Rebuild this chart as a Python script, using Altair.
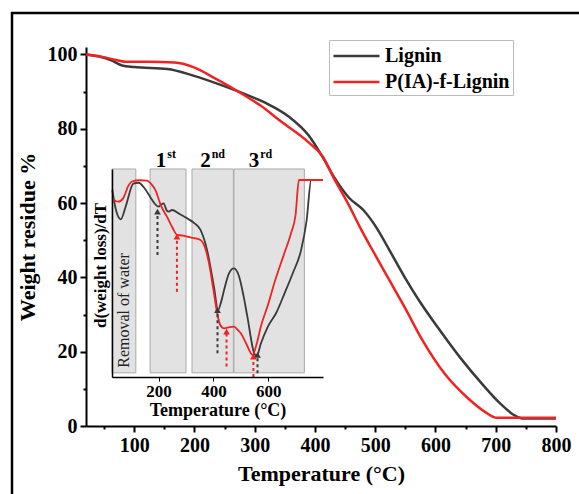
import altair as alt
import pandas as pd

FONT = "Liberation Serif"

# ---------------- data ----------------
series_names = ["Lignin", "P(IA)-f-Lignin"]
series_colors = ["#3a3a3a", "#f02222"]

# main TGA curves (temperature, weight residue %)
lig_T = [20, 40, 62, 80, 100, 155, 198, 247, 296, 321, 358, 389, 413, 432, 456, 481, 502, 524, 549, 573, 604, 641, 678, 709, 733, 746, 800]
lig_W = [100, 99.5, 98.4, 97.0, 96.6, 96.1, 94.3, 91.6, 88.5, 86.7, 83.1, 78.3, 72.3, 66.9, 61.5, 58.0, 53.4, 47.2, 40.0, 33.7, 26.5, 18.4, 11.2, 5.8, 2.7, 2.0, 2.0]
pia_T = [20, 40, 62, 88, 124, 167, 198, 235, 278, 309, 345, 389, 413, 432, 456, 475, 499, 524, 549, 579, 616, 653, 684, 702, 800]
pia_W = [100, 99.6, 98.8, 98.0, 98.0, 97.8, 96.6, 93.5, 89.5, 86.3, 81.8, 76.4, 72.5, 66.5, 59.5, 53.4, 46.3, 39.1, 31.9, 22.9, 13.9, 7.6, 3.6, 2.2, 2.2]

# inset DTG curves (temperature, relative derivative)
dtg_lig_T = [31, 45, 62, 80, 108, 127, 150, 169, 185, 200, 210, 218, 230, 237, 249, 275, 304, 330, 353, 377, 402, 417, 428, 439, 457, 475, 494, 510, 524, 549, 558, 573, 598, 630, 659, 690, 720, 740, 757, 800]
dtg_lig_v = [90, 80, 75.8, 82, 93, 93.4, 90.5, 86.7, 83.5, 81.9, 83, 83.5, 80, 79.5, 80.3, 78.5, 76.3, 74, 70.7, 61, 43.4, 32.2, 36, 41.8, 49.8, 52.2, 48.2, 39, 29, 11.4, 10, 16, 24, 31, 40, 50, 61, 75, 94.7, 94.7]
dtg_pia_T = [31, 45, 53, 71, 90, 103, 130, 157, 175, 188, 210, 231, 250, 268, 290, 304, 330, 353, 370, 384, 400, 414, 425, 439, 460, 475, 490, 500, 520, 543, 560, 573, 600, 622, 655, 683, 700, 712, 800]
dtg_pia_v = [86, 84.5, 84.3, 86, 92, 94, 94.6, 94.4, 92.5, 90, 82, 77, 72, 68.3, 68, 67.5, 66.8, 65.9, 62, 54.6, 42, 30.6, 25, 23.4, 24, 24.2, 22.5, 21, 16, 10.6, 17, 24.2, 35, 45, 58, 69, 78, 94.7, 94.7]

# shaded stages in the inset
region_start = [30, 169, 322, 475]
region_end = [117, 300, 473, 732]

# peak arrows in the inset
arrow_T = [196, 267, 415, 448, 561, 546]
arrow_tip = [79.5, 67.5, 32.2, 21.8, 10.6, 9.8]
arrow_tail = [58.7, 41.0, 11.4, 5.0, 1.8, 0.0]
arrow_series = ["Lignin", "P(IA)-f-Lignin", "Lignin", "P(IA)-f-Lignin", "Lignin", "P(IA)-f-Lignin"]

stage_T = [228, 390, 567]
stage_base = ["1", "2", "3"]
stage_sup = ["st", "nd", "rd"]

x_ticks_main = list(range(50, 801, 50))
y_ticks_main = list(range(0, 101, 10))
inset_ticks = [200, 400, 600]

# ---------------- tables ----------------
main_df = pd.concat([
    pd.DataFrame({"T": lig_T, "W": lig_W, "series": series_names[0]}),
    pd.DataFrame({"T": pia_T, "W": pia_W, "series": series_names[1]}),
])
dtg_df = pd.concat([
    pd.DataFrame({"T": dtg_lig_T, "v": dtg_lig_v, "series": series_names[0]}),
    pd.DataFrame({"T": dtg_pia_T, "v": dtg_pia_v, "series": series_names[1]}),
])
region_df = pd.DataFrame({"T": region_start, "T2": region_end, "v": [2] * 4, "v2": [100] * 4})
arrow_df = pd.DataFrame({"T": arrow_T, "tip": arrow_tip, "tail": arrow_tail, "series": arrow_series})
stage_df = pd.DataFrame({"T": stage_T, "base": stage_base, "sup": stage_sup,
                         "vb": [101] * 3, "vs": [105.5] * 3})
water_df = pd.DataFrame({"T": [72], "v": [32], "label": ["Removal of water"]})

# ---------------- shared guides ----------------
legend = alt.Legend(
    title=None, orient="none", legendX=243, legendY=-7,
    symbolType="M-1,0L3,0", symbolSize=529, symbolStrokeWidth=2.5,
    labelFont=FONT, labelFontSize=20, labelFontWeight="bold", labelColor="black",
    labelOffset=27, rowPadding=3, padding=3,
    strokeColor="#bbbbbb", fillColor="white")
color = alt.Color("series:N", scale=alt.Scale(domain=series_names, range=series_colors),
                  legend=legend, title=None)

inset_x_scale = alt.Scale(domain=[30, 800], range=[26, 237], nice=False, zero=False)
inset_y_scale = alt.Scale(domain=[0, 100], range=[330, 122], nice=False, zero=False)
inset_x_axis = alt.Axis(
    orient="bottom", offset=-49, values=inset_ticks, title="Temperature (°C)",
    labelFont=FONT, labelFontSize=17, labelFontWeight="bold", labelColor="black",
    titleFont=FONT, titleFontSize=18, titleFontWeight="bold", titleColor="black",
    titlePadding=2, labelPadding=2, tickSize=4, tickColor="black", domainColor="black",
    domainWidth=1.5, grid=False, zindex=1)
inset_y_axis = alt.Axis(
    orient="left", offset=-26, labels=False, ticks=False, title="d(weight loss)/dT",
    titleFont=FONT, titleFontSize=17, titleFontWeight="bold", titleColor="black",
    titlePadding=3, titleY=218, domainColor="black", domainWidth=1.5, grid=False, zindex=1)


def ix(field):
    return alt.X(field, scale=inset_x_scale, axis=inset_x_axis, title="Temperature (°C)")


def iy(field):
    return alt.Y(field, scale=inset_y_scale, axis=inset_y_axis, title="d(weight loss)/dT")


# ---------------- inset ----------------
rects = alt.Chart(region_df).mark_rect(fill="#e2e2e2", stroke="#a9a9a9", strokeWidth=1).encode(
    x=ix("T:Q"), x2="T2:Q", y=iy("v:Q"), y2="v2:Q",
)
inset_lines = alt.Chart(dtg_df).mark_line(strokeWidth=1.8, interpolate="monotone").encode(
    x=ix("T:Q"), y=iy("v:Q"), color=color,
)
arrows = alt.Chart(arrow_df).mark_rule(strokeWidth=2, strokeDash=[3, 3]).encode(
    x=ix("T:Q"), y=iy("tail:Q"), y2="tip:Q", color=color,
)
heads = alt.Chart(arrow_df).mark_point(shape="triangle-up", filled=True, size=45, opacity=1).encode(
    x=ix("T:Q"), y=iy("tip:Q"), color=color,
)
stage_main = alt.Chart(stage_df).mark_text(font=FONT, fontSize=21, fontWeight="bold", align="right",
                                             baseline="alphabetic", color="black").encode(
    x=ix("T:Q"), y=iy("vb:Q"), text="base:N",
)
stage_sup_txt = alt.Chart(stage_df).mark_text(font=FONT, fontSize=12, fontWeight="bold", align="left",
                                                baseline="alphabetic", color="black", dx=1).encode(
    x=ix("T:Q"), y=iy("vs:Q"), text="sup:N",
)
water_txt = alt.Chart(water_df).mark_text(font=FONT, fontSize=16, angle=270, color="#222222").encode(
    x=ix("T:Q"), y=iy("v:Q"), text="label:N",
)

inset = alt.layer(rects, inset_lines, arrows, heads, stage_main, stage_sup_txt, water_txt)

# ---------------- main ----------------
main_lines = alt.Chart(main_df).mark_line(strokeWidth=2.5, interpolate="monotone").encode(
    x=alt.X("T:Q", scale=alt.Scale(domain=[20, 800], nice=False, zero=False), axis=alt.Axis(
        orient="bottom", values=x_ticks_main, title="Temperature (°C)",
        labelExpr="datum.value % 100 === 0 ? datum.label : ''",
        tickSize={"condition": {"test": "datum.value % 100 === 0", "value": 6}, "value": 3},
        labelFont=FONT, labelFontSize=20, labelFontWeight="bold", labelColor="black",
        titleFont=FONT, titleFontSize=22, titleFontWeight="bold", titleColor="black",
        tickColor="black", tickWidth=2, domainColor="black", domainWidth=2,
        labelPadding=3, titlePadding=8, grid=False, labelFlush=False)),
    y=alt.Y("W:Q", scale=alt.Scale(domain=[0, 102], nice=False, zero=False), axis=alt.Axis(
        orient="left", values=y_ticks_main, title="Weight residue %",
        labelExpr="datum.value % 20 === 0 ? datum.label : ''",
        tickSize={"condition": {"test": "datum.value % 20 === 0", "value": 6}, "value": 3},
        labelFont=FONT, labelFontSize=20, labelFontWeight="bold", labelColor="black",
        titleFont=FONT, titleFontSize=22, titleFontWeight="bold", titleColor="black",
        tickColor="black", tickWidth=2, domainColor="black", domainWidth=2,
        labelPadding=3, titlePadding=8, grid=False, labelFlush=False)),
    color=color,
)

frame = alt.Chart(pd.DataFrame({"a": [0]})).mark_rect(fillOpacity=0, stroke="black", strokeWidth=2.5).encode(
    x=alt.value(-74), x2=alt.value(640), y=alt.value(-34), y2=alt.value(560)
)

chart = alt.layer(frame, inset, main_lines).resolve_scale(
    x="independent", y="independent"
).properties(
    width=470, height=379,
    padding={"left": 86, "top": 47, "right": 23, "bottom": 68},
    autosize=alt.AutoSizeParams(type="none"),
).configure_view(stroke=None)

chart.save("out.html", embed_options={"renderer": "svg", "actions": False})
